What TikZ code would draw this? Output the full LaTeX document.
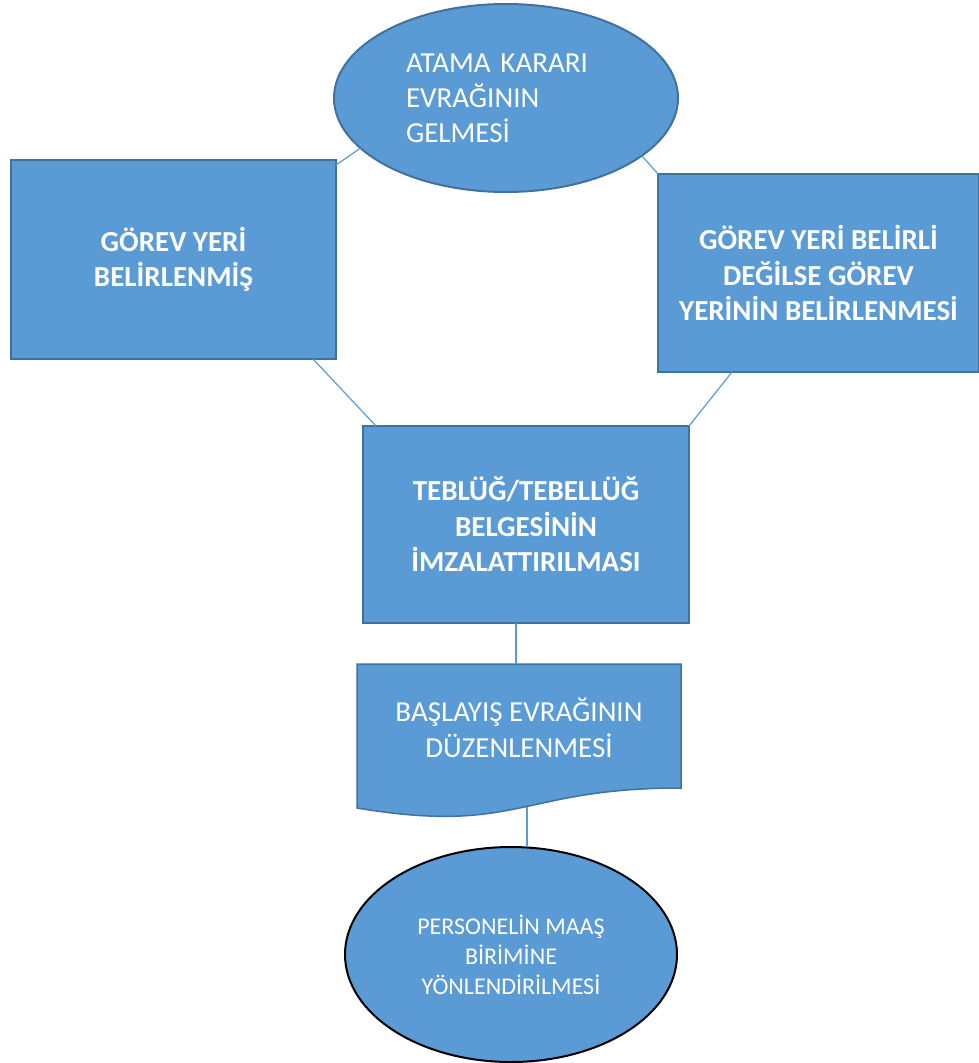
\documentclass[tikz,border=0pt]{standalone}
\usepackage{fontspec}
\setmainfont{Carlito}
\usetikzlibrary{shapes.geometric}
\definecolor{boxfill}{HTML}{5B9BD5}
\definecolor{boxline}{HTML}{41719C}
\begin{document}
\begin{tikzpicture}[x=1pt,y=-1pt,
  box/.style={rectangle, draw=boxline, line width=2.5pt, fill=boxfill, text=white,
    font=\fontsize{29}{35.5}\selectfont\bfseries, align=center, inner sep=0pt, outer sep=0pt},
  oval/.style={ellipse, fill=boxfill, text=white, inner sep=0pt, outer sep=0pt},
  link/.style={draw=boxfill, line width=1.2pt}]
\useasboundingbox (0,0) rectangle (979,1063);

% start event
\node[oval, draw=boxline, line width=2pt, minimum width=344, minimum height=188,
  text width=200, align=left, font=\fontsize{29}{35}\selectfont] (start) at (506,98)
  {ATAMA KARARI\\EVRAĞININ\\GELMESİ};

% the two alternative boxes
\node[box, minimum width=325, minimum height=199] (left) at (173.5,259.5)
  {GÖREV YERİ\\BELİRLENMİŞ};
\node[box, minimum width=321, minimum height=198] (right) at (818.5,273)
  {GÖREV YERİ BELİRLİ\\DEĞİLSE GÖREV\\YERİNİN BELİRLENMESİ};

% notification box
\node[box, minimum width=326, minimum height=197] (mid) at (526,524.5)
  {TEBLÜĞ/TEBELLÜĞ\\BELGESİNİN\\İMZALATTIRILMASI};

% document shape with wavy bottom
\path[fill=boxfill, draw=boxline, line width=1.5pt]
  (357,664) -- (681,664) -- (681,788)
  .. controls (519,788) and (519,835) .. (357,808) -- cycle;
\node[text=white, align=center, font=\fontsize{29}{36}\selectfont, inner sep=0pt]
  (doc) at (519,728) {BAŞLAYIŞ EVRAĞININ\\DÜZENLENMESİ};
\coordinate (docTop) at (516,664);
\coordinate (docWave) at (527,807);

% end event
\node[oval, draw=black, line width=2pt, minimum width=332, minimum height=215,
  align=center, font=\fontsize{24}{30}\selectfont] (end) at (511,954.5)
  {PERSONELİN MAAŞ\\BİRİMİNE\\YÖNLENDİRİLMESİ};

% connectors
\draw[link] (start.199) -- ([yshift=-5pt]left.north east);
\draw[link] (start.337) -- (right.north west);
\draw[link] ([xshift=-23pt]left.south east) -- ([xshift=13pt]mid.north west);
\draw[link] ([xshift=74pt]right.south west) -- (mid.north east);
\draw[link] ([xshift=-10pt]mid.south) -- (docTop);
\draw[link] (docWave) -- (docWave |- end.north);
\end{tikzpicture}
\end{document}
